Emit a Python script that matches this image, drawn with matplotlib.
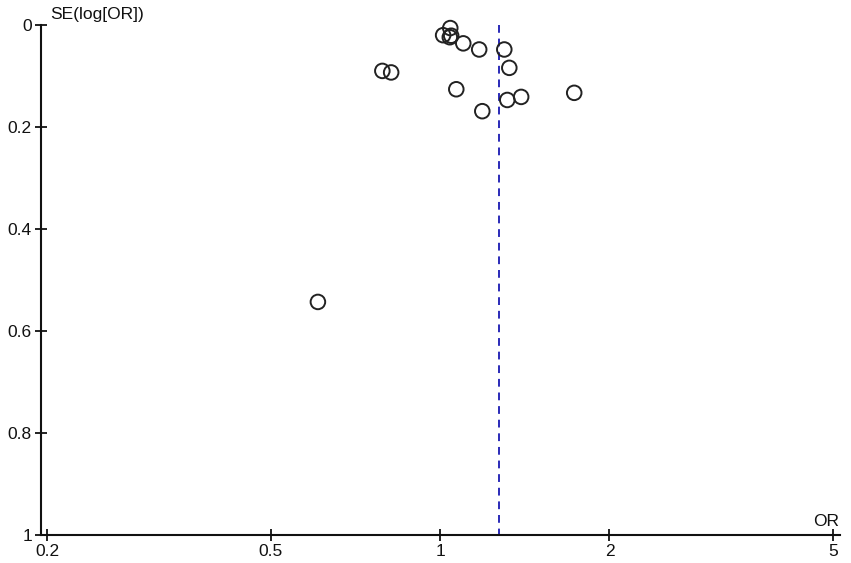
import matplotlib
matplotlib.use("Agg")
import matplotlib.pyplot as plt
from matplotlib.ticker import FixedLocator, FixedFormatter, NullLocator

plt.rcParams["font.family"] = ["Liberation Sans", "DejaVu Sans"]

# study estimates
odds_ratio = [1.042, 1.012, 1.046, 1.040, 1.099, 1.173, 1.300, 1.327,
              0.789, 0.818, 1.068, 1.316, 1.393, 1.731, 1.188, 0.606]
se_log_or = [0.006, 0.020, 0.021, 0.024, 0.036, 0.048, 0.048, 0.084,
             0.090, 0.093, 0.126, 0.147, 0.141, 0.133, 0.169, 0.543]
pooled_or = 1.273

x_ticks = [0.2, 0.5, 1, 2, 5]
x_labels = ["0.2", "0.5", "1", "2", "5"]
y_ticks = [0, 0.2, 0.4, 0.6, 0.8, 1]
y_labels = ["0", "0.2", "0.4", "0.6", "0.8", "1"]


def main():
    fig = plt.figure(figsize=(8.51, 5.63), dpi=100)
    ax = fig.add_axes([41 / 851, 1 - 535 / 563, 799 / 851, 510 / 563])

    ax.scatter(odds_ratio, se_log_or, s=110, facecolors="none",
               edgecolors="#222222", linewidths=1.4, zorder=3, clip_on=False)
    ax.plot([pooled_or, pooled_or], [0, 1], color="#2a2ab8", lw=1.4,
            ls=(0, (4, 3)), zorder=2, clip_on=False)

    ax.set_xscale("log")
    ax.set_xlim(0.195, 5.14)
    ax.set_ylim(1, 0)

    ax.xaxis.set_major_locator(FixedLocator(x_ticks))
    ax.xaxis.set_major_formatter(FixedFormatter(x_labels))
    ax.xaxis.set_minor_locator(NullLocator())
    ax.yaxis.set_major_locator(FixedLocator(y_ticks))
    ax.yaxis.set_major_formatter(FixedFormatter(y_labels))

    for side in ("top", "right"):
        ax.spines[side].set_visible(False)
    for side in ("left", "bottom"):
        ax.spines[side].set_linewidth(1.5)
        ax.spines[side].set_color("#111111")
    ax.tick_params(direction="inout", length=9, width=1.3, color="#111111",
                   labelsize=12.5, labelcolor="#111111", pad=2)

    fig.text(50 / 851, 1 - 15 / 563, "SE(log[OR])", fontsize=12.5,
             color="#111111", ha="left", va="center")
    fig.text(826 / 851, 1 - 522 / 563, "OR", fontsize=12.5,
             color="#111111", ha="center", va="center")

    fig.savefig("out.png", dpi=100)
    plt.close(fig)


if __name__ == "__main__":
    main()
